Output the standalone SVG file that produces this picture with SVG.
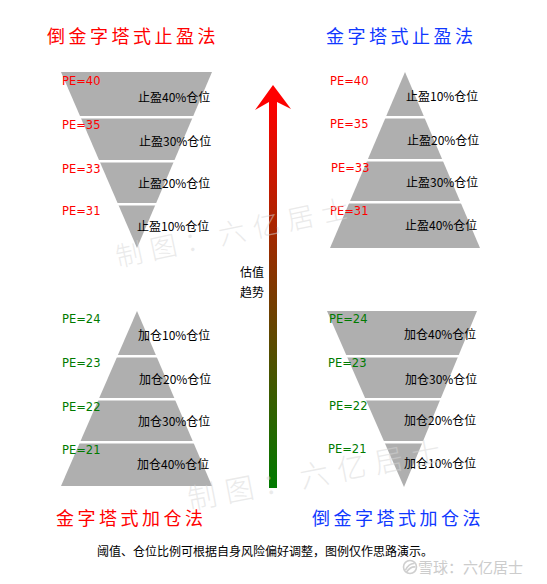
<svg xmlns="http://www.w3.org/2000/svg" width="547" height="584" viewBox="0 0 547 584">
<defs>
<linearGradient id="trend" x1="0" y1="100" x2="0" y2="488" gradientUnits="userSpaceOnUse">
<stop offset="0" stop-color="#ff0000"/>
<stop offset="0.5" stop-color="#7a3a00"/>
<stop offset="1" stop-color="#007a00"/>
</linearGradient>
</defs>
<style>
.tri{fill:#afafaf}
.sep{fill:#ffffff}
.pe{font-family:"DejaVu Sans",sans-serif;font-size:11.5px}
.red{fill:#ff0000}
.grn{fill:#007a00}
.lbl{font-family:"Noto Sans CJK SC","Noto Sans",sans-serif;font-size:12px;fill:#000}
.title{font-family:"Noto Sans CJK SC",sans-serif;font-size:18px;letter-spacing:3.5px}
.tred{fill:#ff0000}
.tblue{fill:#1038ff}
.wm{font-family:"Noto Sans CJK SC",sans-serif;font-weight:300;fill:#d6d6d6;fill-opacity:0.5}
</style>
<rect width="547" height="584" fill="#ffffff"/>

<g id="title-inverted-stop">
<text class="title tred" x="47" y="43">倒金字塔式止盈法</text>
</g>
<g id="title-pyramid-stop">
<text class="title tblue" x="326" y="43">金字塔式止盈法</text>
</g>

<g id="inverted-stop-pyramid">
<polygon class="tri" points="61,72 212,72 137,248"/>
<rect class="sep" x="55" y="116" width="165" height="2.5"/>
<rect class="sep" x="55" y="160" width="165" height="2.5"/>
<rect class="sep" x="55" y="203" width="165" height="2.5"/>
<text class="pe red" x="62" y="85">PE=40</text>
<text class="pe red" x="62" y="129">PE=35</text>
<text class="pe red" x="62" y="172.5">PE=33</text>
<text class="pe red" x="62" y="215">PE=31</text>
<text class="lbl" x="138" y="102">止盈40%仓位</text>
<text class="lbl" x="139" y="145.5">止盈30%仓位</text>
<text class="lbl" x="138" y="188">止盈20%仓位</text>
<text class="lbl" x="137" y="230.5">止盈10%仓位</text>
</g>

<g id="pyramid-stop">
<polygon class="tri" points="405,72 480,248 330,248"/>
<rect class="sep" x="325" y="116" width="160" height="2.5"/>
<rect class="sep" x="325" y="159" width="160" height="2.5"/>
<rect class="sep" x="325" y="201" width="160" height="2.5"/>
<text class="pe red" x="330" y="85">PE=40</text>
<text class="pe red" x="330" y="128">PE=35</text>
<text class="pe red" x="331" y="172">PE=33</text>
<text class="pe red" x="330" y="215">PE=31</text>
<text class="lbl" x="406" y="101">止盈10%仓位</text>
<text class="lbl" x="407" y="145">止盈20%仓位</text>
<text class="lbl" x="406" y="187">止盈30%仓位</text>
<text class="lbl" x="405" y="230">止盈40%仓位</text>
</g>

<g id="pyramid-add">
<polygon class="tri" points="137,311 212,486 61,486"/>
<rect class="sep" x="55" y="355" width="165" height="2.5"/>
<rect class="sep" x="55" y="398" width="165" height="2.5"/>
<rect class="sep" x="55" y="441" width="165" height="2.5"/>
<text class="pe grn" x="62" y="323">PE=24</text>
<text class="pe grn" x="62" y="367">PE=23</text>
<text class="pe grn" x="62" y="410.5">PE=22</text>
<text class="pe grn" x="62" y="454">PE=21</text>
<text class="lbl" x="138" y="340">加仓10%仓位</text>
<text class="lbl" x="139" y="384">加仓20%仓位</text>
<text class="lbl" x="138" y="426">加仓30%仓位</text>
<text class="lbl" x="137" y="469">加仓40%仓位</text>
</g>

<g id="inverted-add-pyramid">
<polygon class="tri" points="327,311 477,311 404,487"/>
<rect class="sep" x="322" y="355" width="160" height="2.5"/>
<rect class="sep" x="322" y="398" width="160" height="2.5"/>
<rect class="sep" x="322" y="441" width="160" height="2.5"/>
<text class="pe grn" x="329" y="323">PE=24</text>
<text class="pe grn" x="328" y="367">PE=23</text>
<text class="pe grn" x="329" y="410">PE=22</text>
<text class="pe grn" x="328" y="453">PE=21</text>
<text class="lbl" x="404" y="339">加仓40%仓位</text>
<text class="lbl" x="405" y="384">加仓30%仓位</text>
<text class="lbl" x="404" y="425">加仓20%仓位</text>
<text class="lbl" x="404" y="468">加仓10%仓位</text>
</g>

<g id="title-pyramid-add">
<text class="title tred" x="56" y="525">金字塔式加仓法</text>
</g>
<g id="title-inverted-add">
<text class="title tblue" x="312" y="525">倒金字塔式加仓法</text>
</g>

<g id="connectors">
<path d="M273,85 L291,109 L277,102 L277,488 L269,488 L269,102 L255,110 Z" fill="url(#trend)"/>
</g>

<g id="trend-label">
<text class="lbl" x="240" y="277">估值</text>
<text class="lbl" x="240" y="297">趋势</text>
</g>

<g id="footer">
<text class="lbl" x="97" y="556">阈值、仓位比例可根据自身风险偏好调整，图例仅作思路演示。</text>
</g>

<g id="watermarks">
<text class="wm" x="118" y="267" font-size="27" letter-spacing="8" transform="rotate(-12 118 267)">制图：六亿居士</text>
<text class="wm" x="190" y="510" font-size="29" letter-spacing="9" transform="rotate(-11 190 510)">制图：六亿居士</text>
<g fill="none" stroke="#cfcfcf" stroke-width="1.6">
<circle cx="410" cy="567" r="6.5"/>
<path d="M405.5,570 Q409,563 414.5,563.5 M406.5,572 Q411,566 415.5,567"/>
</g>
<text x="418" y="573" font-family="Noto Sans CJK SC,sans-serif" font-size="15" fill="#cccccc">雪球：六亿居士</text>
</g>
</svg>
